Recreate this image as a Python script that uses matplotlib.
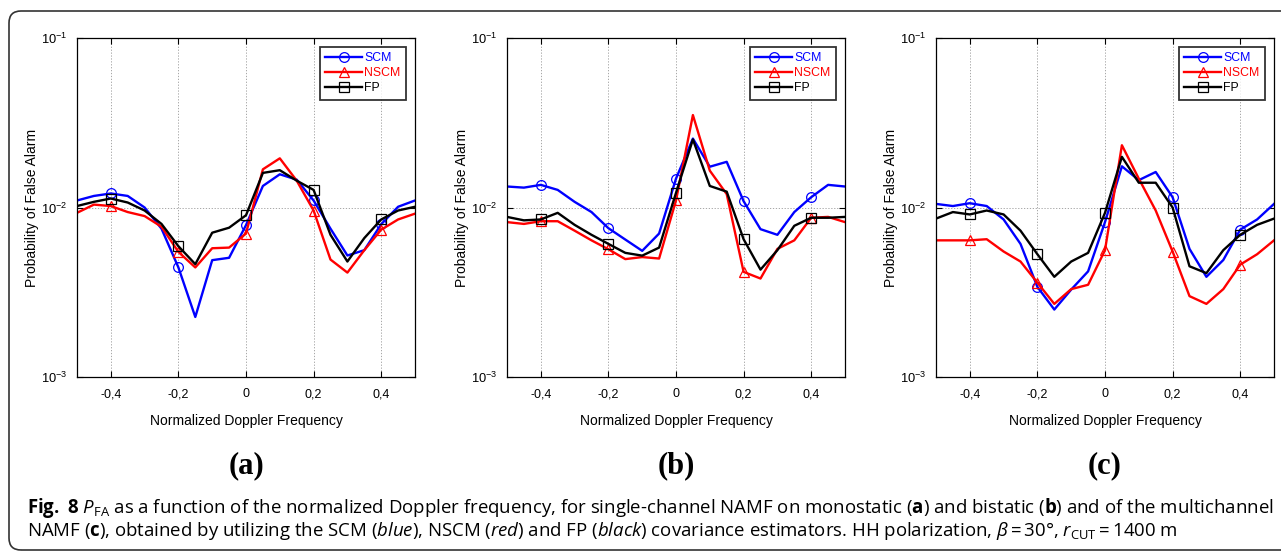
import matplotlib
matplotlib.use("Agg")
import matplotlib.pyplot as plt
import numpy as np
from matplotlib.patches import FancyBboxPatch
from matplotlib.transforms import IdentityTransform
from matplotlib.ticker import FixedLocator, FixedFormatter, NullLocator

plt.rcParams['font.family'] = ['Liberation Sans', 'DejaVu Sans']
plt.rcParams['mathtext.fontset'] = 'custom'
plt.rcParams['mathtext.rm'] = 'Open Sans'
plt.rcParams['mathtext.it'] = 'Open Sans:italic'
plt.rcParams['mathtext.bf'] = 'Open Sans:bold'

# ---------------- data ----------------
doppler = [-0.5, -0.45, -0.4, -0.35, -0.3, -0.25, -0.2, -0.15, -0.1, -0.05, 0.0,
           0.05, 0.1, 0.15, 0.2, 0.25, 0.3, 0.35, 0.4, 0.45, 0.5]

scm_a = [0.0110, 0.0117, 0.0121, 0.0117, 0.0100, 0.0075, 0.00443, 0.00226, 0.00489, 0.00505, 0.00787,
         0.0134, 0.0157, 0.0146, 0.0110, 0.0075, 0.00521, 0.0056, 0.00797, 0.0101, 0.0110]
nscm_a = [0.0093, 0.0104, 0.0102, 0.0094, 0.0089, 0.0077, 0.00547, 0.00443, 0.00575, 0.0058, 0.00702,
          0.0168, 0.0195, 0.0144, 0.0096, 0.00493, 0.00413, 0.0056, 0.0074, 0.0085, 0.0092]
fp_a = [0.0102, 0.0108, 0.0113, 0.0107, 0.0096, 0.0080, 0.00591, 0.00463, 0.0071, 0.0076, 0.0090,
        0.0160, 0.0166, 0.0144, 0.0127, 0.0069, 0.0048, 0.0066, 0.0085, 0.0096, 0.0101]

scm_b = [0.0133, 0.0131, 0.0136, 0.0127, 0.0108, 0.0094, 0.00755, 0.00647, 0.00555, 0.00702, 0.0148,
         0.0255, 0.0174, 0.0186, 0.0109, 0.00745, 0.0069, 0.0094, 0.0115, 0.0136, 0.0133]
nscm_b = [0.0082, 0.0080, 0.0083, 0.0083, 0.0073, 0.0064, 0.00567, 0.00496, 0.0051, 0.0050, 0.0110,
          0.0351, 0.0165, 0.0120, 0.00417, 0.00381, 0.0057, 0.0064, 0.0087, 0.0088, 0.0082]
fp_b = [0.0088, 0.0084, 0.0085, 0.0093, 0.0079, 0.0069, 0.0061, 0.0054, 0.0052, 0.0058, 0.0122,
        0.0252, 0.0134, 0.0124, 0.0065, 0.0043, 0.0056, 0.0078, 0.0087, 0.0087, 0.0088]

scm_c = [0.0105, 0.0102, 0.0106, 0.0102, 0.0085, 0.0061, 0.0034, 0.0025, 0.00328, 0.0042, 0.0082,
         0.0175, 0.0145, 0.0162, 0.0115, 0.0057, 0.0039, 0.0049, 0.0074, 0.0085, 0.0105]
nscm_c = [0.0064, 0.0064, 0.0064, 0.0065, 0.0055, 0.0048, 0.0036, 0.0027, 0.0033, 0.0035, 0.0056,
          0.0233, 0.0148, 0.0096, 0.0055, 0.0030, 0.0027, 0.0033, 0.0046, 0.0053, 0.0064]
fp_c = [0.0086, 0.0094, 0.0091, 0.0096, 0.0091, 0.0073, 0.0053, 0.0039, 0.0048, 0.0054, 0.0093,
        0.0199, 0.0140, 0.0140, 0.0100, 0.0045, 0.0041, 0.0056, 0.0069, 0.0079, 0.0086]

series_names = ["SCM", "NSCM", "FP"]
panel_labels = ["(a)", "(b)", "(c)"]
xtick_values = [-0.4, -0.2, 0.0, 0.2, 0.4]
xtick_labels = ["-0,4", "-0,2", "0", "0,2", "0,4"]
ytick_values = [1e-3, 1e-2, 1e-1]
ytick_labels = [r"$\mathregular{10^{-3}}$", r"$\mathregular{10^{-2}}$", r"$\mathregular{10^{-1}}$"]

panels = [(scm_a, nscm_a, fp_a), (scm_b, nscm_b, fp_b), (scm_c, nscm_c, fp_c)]

colors = ["#0000ff", "#ff0000", "#000000"]
markers = ["o", "^", "s"]

# ---------------- figure ----------------
W, H = 1281, 552
fig = plt.figure(figsize=(W / 100, H / 100), dpi=100)

ax_lefts = [77, 507, 936]
ax_w = 338
ax_top, ax_bot = 38, 377

for i, (vals, lab) in enumerate(zip(panels, panel_labels)):
    ax = fig.add_axes([ax_lefts[i] / W, 1 - ax_bot / H, ax_w / W, (ax_bot - ax_top) / H])
    for v, name, c, m in zip(vals, series_names, colors, markers):
        ax.plot(doppler, v, color=c, lw=1.7, marker=m, markevery=slice(2, None, 4),
                markersize=7, markerfacecolor='none', markeredgecolor=c, markeredgewidth=0.9,
                label=name)
    ax.set_yscale('log')
    ax.set_xlim(-0.5, 0.5)
    ax.set_ylim(1e-3, 1e-1)
    ax.xaxis.set_major_locator(FixedLocator(xtick_values))
    ax.xaxis.set_major_formatter(FixedFormatter(xtick_labels))
    ax.yaxis.set_major_locator(FixedLocator(ytick_values))
    ax.yaxis.set_major_formatter(FixedFormatter(ytick_labels))
    ax.yaxis.set_minor_locator(NullLocator())
    ax.grid(True, which='major', linestyle=(0, (1.5, 2)), color='#999999', lw=0.6)
    ax.tick_params(direction='in', top=True, right=True, length=4, width=0.8)
    ax.tick_params(axis='x', pad=8, labelsize=9)
    ax.tick_params(axis='y', pad=7, labelsize=9.3)
    for sp in ax.spines.values():
        sp.set_linewidth(0.9)
    ax.set_xlabel("Normalized Doppler Frequency", fontsize=10, labelpad=10)
    ax.set_ylabel("Probability of False Alarm", fontsize=10, labelpad=1.5)
    leg = ax.legend(loc='upper right', fontsize=8.8, frameon=True, fancybox=False,
                    edgecolor='black', handlelength=3.0, handletextpad=0.2,
                    borderpad=0.45, labelspacing=0.24, borderaxespad=0.72)
    leg.get_frame().set_linewidth(1.3)
    for t, c in zip(leg.get_texts(), colors):
        t.set_color(c)
    ax.text(0.5, -0.263, lab, transform=ax.transAxes, ha='center', va='center',
            fontsize=22, fontweight='bold', family='Liberation Serif')

# caption
line1 = (r"$\mathbf{Fig.\ 8}$ $P_{\mathrm{FA}}$ as a function of the normalized Doppler frequency, "
         r"for single-channel NAMF on monostatic ($\mathbf{a}$) and bistatic ($\mathbf{b}$) "
         r"and of the multichannel")
line2 = (r"NAMF ($\mathbf{c}$), obtained by utilizing the SCM ($\mathit{blue}$), NSCM ($\mathit{red}$) "
         r"and FP ($\mathit{black}$) covariance estimators. HH polarization, $\beta$"
         "\u2009=\u200930°, "
         r"$r_{\mathrm{CUT}}$""\u2009=\u20091400 m")
fig.text(27 / W, 1 - 508 / H, line1, fontsize=13.4, family=['Open Sans', 'DejaVu Sans'],
         ha='left', va='center')
fig.text(27 / W, 1 - 531 / H, line2, fontsize=13.4, family=['Open Sans', 'DejaVu Sans'],
         ha='left', va='center')

# rounded border
box = FancyBboxPatch((9, 2), 1320, 539, boxstyle="round,pad=0,rounding_size=12",
                     transform=IdentityTransform(), fill=False, edgecolor='#333333', lw=1.2,
                     clip_on=False)
fig.patches.append(box)

fig.savefig("out.png", dpi=100)
